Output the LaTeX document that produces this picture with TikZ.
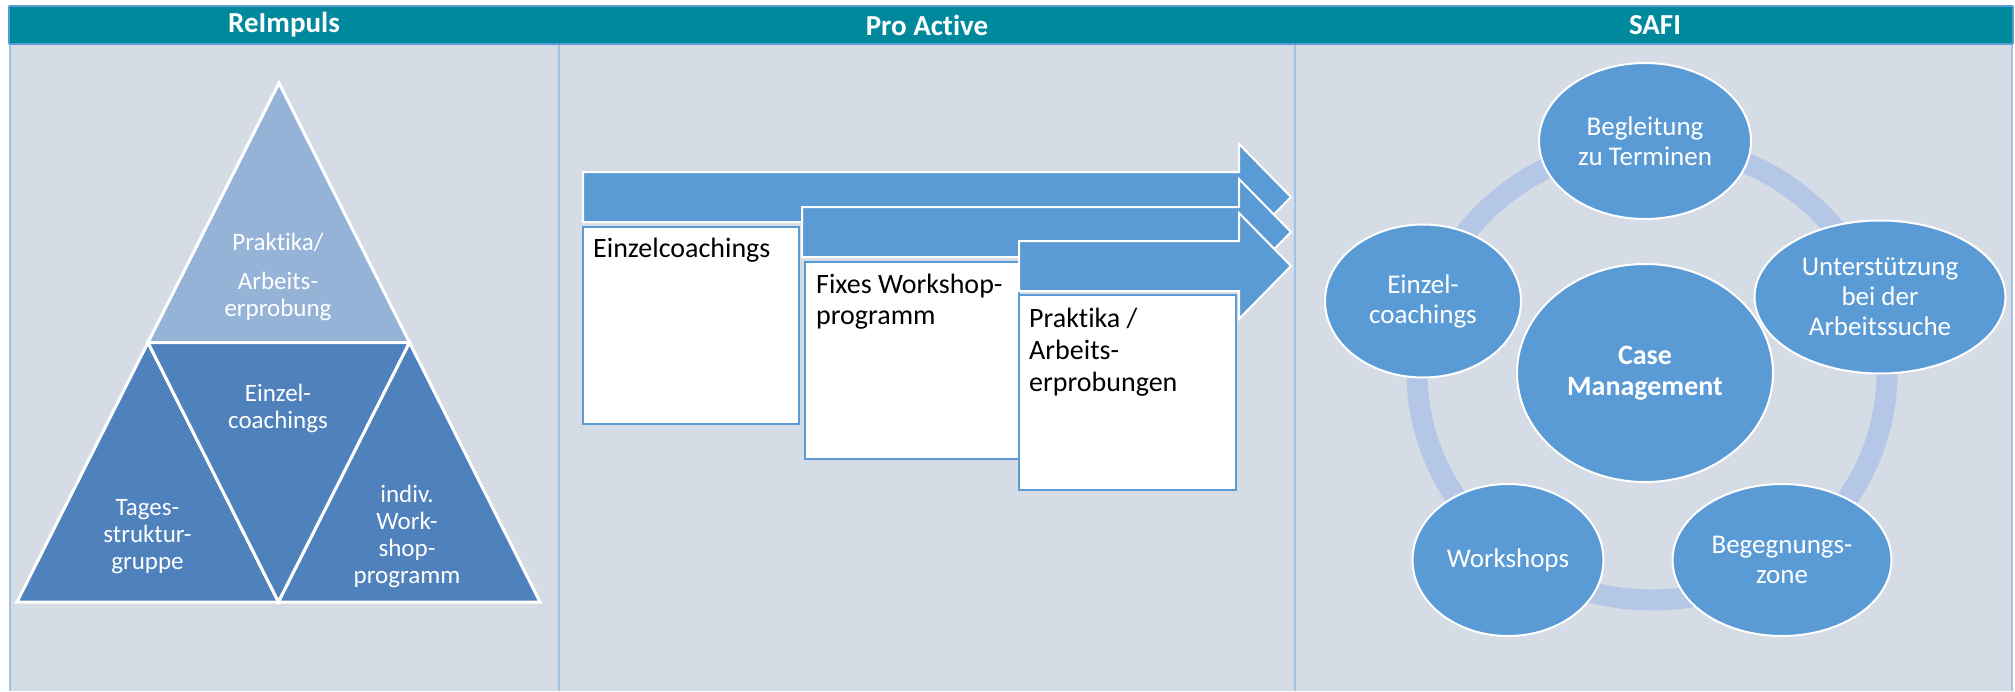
\documentclass[tikz,border=0pt]{standalone}
\usepackage{fontspec}
\setmainfont{Carlito}[Ligatures={NoCommon,NoContextual},RawFeature=-calt]
\usetikzlibrary{shapes.geometric}

\definecolor{headteal}{HTML}{00899D}
\definecolor{headline}{HTML}{5B9BD5}
\definecolor{panelbg}{HTML}{D6DCE5}
\definecolor{colline}{HTML}{9DC3E6}
\definecolor{tritop}{HTML}{95B3D7}
\definecolor{trimain}{HTML}{4F81BD}
\definecolor{shapeblue}{HTML}{5B9BD5}
\definecolor{ringblue}{HTML}{B4C7E7}

\begin{document}
\begin{tikzpicture}[x=1pt,y=-1pt,
  headtext/.style={text=white,inner sep=0,font=\bfseries\fontsize{29}{32}\selectfont},
  tri/.style={draw=white,line width=3pt,line join=miter},
  tritext/.style={text=white,align=center,inner sep=0,font=\fontsize{25}{27}\selectfont},
  flowarrow/.style={fill=shapeblue,draw=white,line width=2pt,line join=miter},
  stagebox/.style={fill=white,draw=shapeblue,line width=2.5pt},
  boxtext/.style={anchor=base west,inner sep=0,text=black,font=\fontsize{28}{31}\selectfont},
  cyc/.style={ellipse,fill=shapeblue,draw=white,line width=2pt,text=white,align=center,inner sep=0,font=\fontsize{27}{30}\selectfont},
]
\useasboundingbox (0,0) rectangle (2015,691);
\fill[white] (0,0) rectangle (2015,691);

% table frame: panel body, header band, column rules
\fill[panelbg] (9,44) rectangle (2013,691);
\fill[headteal] (9,6) rectangle (2013,44);
\draw[headline,line width=2pt] (9,6) -- (2013,6) (9,44) -- (2013,44) (9,6) -- (9,44) (2013,6) -- (2013,44);
\draw[colline,line width=2pt] (10,45) -- (10,691) (559,45) -- (559,691) (1295,45) -- (1295,691) (2012,45) -- (2012,691);

\node[headtext] (hReImpuls) at (284,25) {ReImpuls};
\node[headtext] (hProActive) at (927,25) {Pro Active};
\node[headtext] (hSafi) at (1655,25) {SAFI};

% ReImpuls: pyramid of four triangles
\coordinate (apex) at (279,83);
\coordinate (baseL) at (17,602);
\coordinate (baseR) at (540,602);
\coordinate (midL) at (148,342.5);
\coordinate (midR) at (409.5,342.5);
\coordinate (baseM) at (278.5,602);
\filldraw[tri,fill=tritop] (apex) -- (midL) -- (midR) -- cycle;
\filldraw[tri,fill=trimain] (midL) -- (baseL) -- (baseM) -- cycle;
\filldraw[tri,fill=trimain] (midL) -- (midR) -- (baseM) -- cycle;
\filldraw[tri,fill=trimain] (midR) -- (baseM) -- (baseR) -- cycle;

\node[tritext] (tTop) at (278,277) {Praktika/\\[12pt]Arbeits-\\erprobung};
\node[tritext] (tMid) at (278,408.5) {Einzel-\\coachings};
\node[tritext] (tLeft) at (147.5,537) {Tages-\\struktur-\\gruppe};
\node[tritext] (tRight) at (407,536.5) {indiv.\\Work-\\shop-\\programm};

% Pro Active: staggered arrows with their boxes
\filldraw[flowarrow] (583,172) -- (1239,172) -- (1239,144) -- (1291,197) -- (1239,250) -- (1239,222) -- (583,222) -- cycle;
\filldraw[stagebox] (583,227) rectangle (799,424);
\node[boxtext] (sA1) at (593,257) {Einzelcoachings};

\filldraw[flowarrow] (802,207) -- (1239,207) -- (1239,179) -- (1291,232) -- (1239,285) -- (1239,257) -- (802,257) -- cycle;
\filldraw[stagebox] (805,262) rectangle (1019,459);
\node[boxtext] (sB1) at (816,293) {Fixes Workshop-};
\node[boxtext] (sB2) at (816,324) {programm};

\filldraw[flowarrow] (1019,241) -- (1239,241) -- (1239,213) -- (1291,266) -- (1239,319) -- (1239,291) -- (1019,291) -- cycle;
\filldraw[stagebox] (1019,295) rectangle (1236,490);
\node[boxtext] (sC1) at (1029,327) {Praktika /};
\node[boxtext] (sC2) at (1029,359) {Arbeits-};
\node[boxtext] (sC3) at (1029,391) {erprobungen};

% SAFI: cycle of services around case management
\draw[ringblue,line width=21pt] (1652,372) ellipse [x radius=235pt, y radius=228pt];

\node[cyc,minimum width=212pt,minimum height=156pt] (cBeg) at (1645,141) {Begleitung\\zu Terminen};
\node[cyc,minimum width=251pt,minimum height=153pt] (cUnt) at (1880,297) {Unterstützung\\bei der\\Arbeitssuche};
\node[cyc,minimum width=219pt,minimum height=152pt] (cZone) at (1782,560) {Begegnungs-\\zone};
\node[cyc,minimum width=191pt,minimum height=152pt] (cWork) at (1508,560) {Workshops};
\node[cyc,minimum width=196pt,minimum height=153pt] (cEinz) at (1423,301) {Einzel-\\coachings};
\node[cyc,minimum width=256pt,minimum height=218pt,font=\bfseries\fontsize{28}{31}\selectfont] (cCase) at (1645,373) {Case\\Management};
\end{tikzpicture}
\end{document}
